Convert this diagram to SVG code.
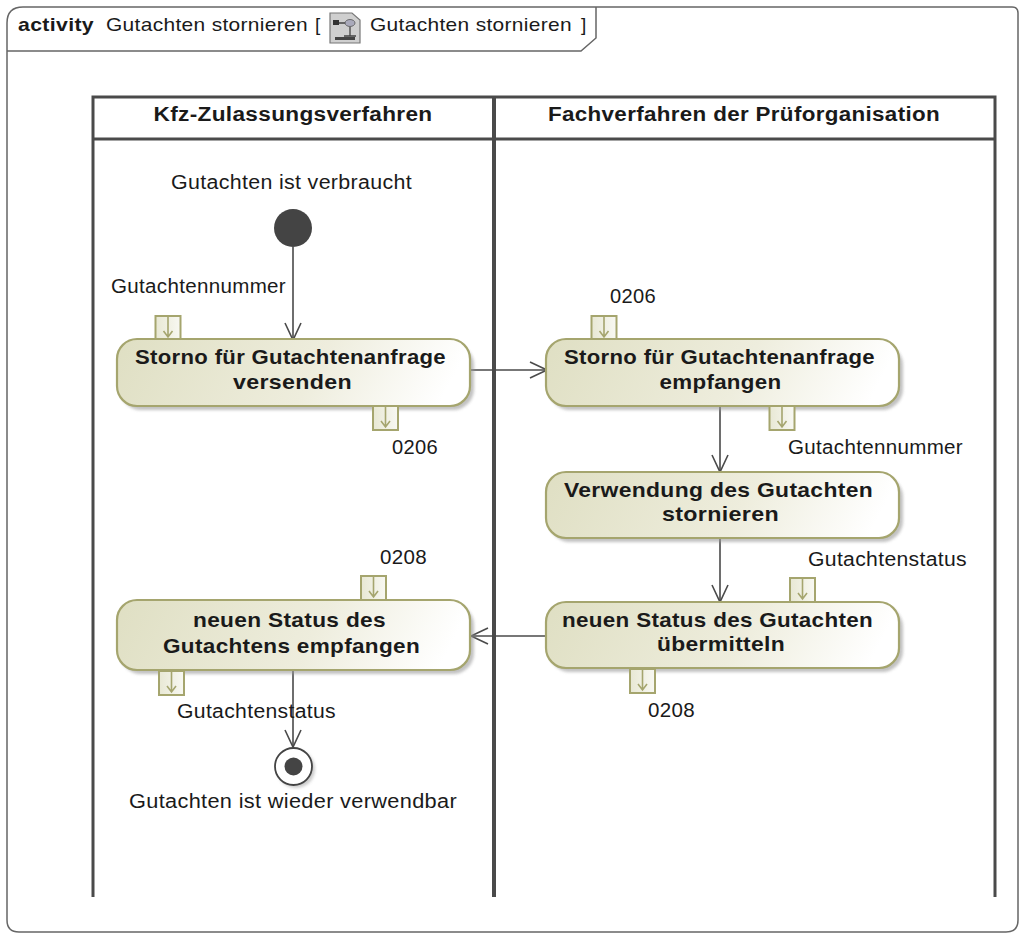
<svg xmlns="http://www.w3.org/2000/svg" width="1025" height="934" viewBox="0 0 1025 934">
<style>
text{font-family:"Liberation Sans",Arial,sans-serif;fill:#1a1a1a;font-size:19.500px;letter-spacing:.3px}
.t{font-size:19px}
.b{font-weight:bold}
.n{font-weight:bold;font-size:21px;text-anchor:middle}
.h{font-weight:bold;font-size:20px;text-anchor:middle}
.m{text-anchor:middle}
.act{fill:url(#g);stroke:#a5a56e;stroke-width:2.200}
.sh{fill:#999;opacity:.6;filter:url(#blur)}
.pin{fill:url(#pg);stroke:#a5a56e;stroke-width:2}
.pa{fill:none;stroke:#a5a56e;stroke-width:1.600}
.c{fill:none;stroke:#4a4a4a;stroke-width:1.600}
.sw{fill:none;stroke:#4a4a4a;stroke-width:3}
</style>
<defs>
<linearGradient id="g" x1="0" y1="0" x2="1" y2="0.1"><stop offset="0" stop-color="#dfdfc3"/><stop offset=".6" stop-color="#eeeddd"/><stop offset="1" stop-color="#ffffff"/></linearGradient>
<linearGradient id="pg" x1="0" y1="0" x2="1" y2="0"><stop offset="0" stop-color="#e8e8d4"/><stop offset="1" stop-color="#f8f8f2"/></linearGradient>
<filter id="blur" x="-10%" y="-20%" width="120%" height="140%"><feGaussianBlur stdDeviation="1.500"/></filter>
<marker id="arr" markerUnits="userSpaceOnUse" markerWidth="22" markerHeight="18" refX="18" refY="9" orient="auto"><path d="M1 1 L18 9 L1 17" fill="none" stroke="#4a4a4a" stroke-width="1.600"/></marker>
<g id="pinIcon"><rect class="pin" x="-12.500" y="0" width="25" height="24"/><path class="pa" d="M0 0V21M-4.500 15L0 21L4.500 15"/></g>
</defs>
<g id="frame">
<path d="M23 7H1012Q1018 7 1018 13V920Q1018 932 1006 932H19Q7 932 7 920V23Q7 7 23 7Z" fill="#fff" stroke="#666" stroke-width="1.500"/>
<path d="M7 51H581L596 38V7" fill="none" stroke="#666" stroke-width="1.500"/>
<text x="18" y="31" class="t b" textLength="76" lengthAdjust="spacingAndGlyphs">activity</text>
<text x="106" y="31" class="t" textLength="202" lengthAdjust="spacingAndGlyphs">Gutachten stornieren</text>
<text x="315" y="31" class="t">[</text>
<text x="370" y="31" class="t" textLength="202" lengthAdjust="spacingAndGlyphs">Gutachten stornieren</text>
<text x="581" y="31" class="t">]</text>
<g id="frame-icon"><path d="M330 13H352L360 20V43H330Z" fill="#cfcfcf" stroke="#777" stroke-width="1.200"/><rect x="333" y="20" width="6" height="5" fill="#333"/><path d="M339 23H346M350 27V36M344 36H356" stroke="#444" stroke-width="1.300" fill="none"/><ellipse cx="350" cy="23" rx="5" ry="3.500" fill="#aab" stroke="#555" stroke-width=".8"/><rect x="335" y="37" width="20" height="3" fill="#444"/></g>
</g>
<g id="swimlanes">
<path class="sw" d="M93 897V97H995V897M93 139H995"/>
<path class="sw" d="M494 97V897" style="stroke-width:4"/>
<text class="h" x="293" y="121" textLength="279" lengthAdjust="spacingAndGlyphs">Kfz-Zulassungsverfahren</text>
<text class="h" x="744" y="121" textLength="392" lengthAdjust="spacingAndGlyphs">Fachverfahren der Prüforganisation</text>
</g>
<g id="connectors">
<path class="c" d="M293 247V340" marker-end="url(#arr)"/>
<path class="c" d="M470 370H547" marker-end="url(#arr)"/>
<path class="c" d="M720 406V472" marker-end="url(#arr)"/>
<path class="c" d="M720 538V602" marker-end="url(#arr)"/>
<path class="c" d="M546 636H471" marker-end="url(#arr)"/>
<path class="c" d="M293 670V747" marker-end="url(#arr)"/>
</g>
<g id="start"><circle cx="293" cy="228" r="19" fill="#444"/><text x="291.500" y="189" class="m" textLength="241" lengthAdjust="spacingAndGlyphs">Gutachten ist verbraucht</text></g>
<g id="a1"><rect class="sh" x="120" y="344" width="354" height="66" rx="21"/><use href="#pinIcon" x="168" y="316"/><use href="#pinIcon" x="385.500" y="406"/><rect class="act" x="117" y="339" width="353" height="67" rx="20"/><text class="n" x="290.500" y="364" textLength="311" lengthAdjust="spacingAndGlyphs">Storno für Gutachtenanfrage</text><text class="n" x="292.500" y="389" textLength="119" lengthAdjust="spacingAndGlyphs">versenden</text><text x="111" y="293" textLength="175" lengthAdjust="spacingAndGlyphs">Gutachtennummer</text><text x="392" y="454" textLength="46" lengthAdjust="spacingAndGlyphs">0206</text></g>
<g id="a2"><rect class="sh" x="549" y="344" width="354" height="66" rx="21"/><use href="#pinIcon" x="604" y="316"/><use href="#pinIcon" x="782" y="406"/><rect class="act" x="546" y="339" width="353" height="67" rx="20"/><text class="n" x="719.500" y="364" textLength="311" lengthAdjust="spacingAndGlyphs">Storno für Gutachtenanfrage</text><text class="n" x="720.500" y="389" textLength="122" lengthAdjust="spacingAndGlyphs">empfangen</text><text x="610" y="303" textLength="46" lengthAdjust="spacingAndGlyphs">0206</text><text x="788" y="454" textLength="175" lengthAdjust="spacingAndGlyphs">Gutachtennummer</text></g>
<g id="a3"><rect class="sh" x="549" y="476" width="354" height="66" rx="21"/><rect class="act" x="546" y="472" width="353" height="66" rx="20"/><text class="n" x="718.500" y="497" textLength="309" lengthAdjust="spacingAndGlyphs">Verwendung des Gutachten</text><text class="n" x="720.500" y="521" textLength="117" lengthAdjust="spacingAndGlyphs">stornieren</text></g>
<g id="a4"><rect class="sh" x="549" y="606" width="354" height="66" rx="21"/><use href="#pinIcon" x="802.500" y="578"/><use href="#pinIcon" x="642.500" y="669"/><rect class="act" x="546" y="602" width="353" height="66" rx="20"/><text class="n" x="717.500" y="627" textLength="311" lengthAdjust="spacingAndGlyphs">neuen Status des Gutachten</text><text class="n" x="721" y="651" textLength="128" lengthAdjust="spacingAndGlyphs">übermitteln</text><text x="808" y="566" textLength="159" lengthAdjust="spacingAndGlyphs">Gutachtenstatus</text><text x="648" y="717" textLength="47" lengthAdjust="spacingAndGlyphs">0208</text></g>
<g id="a5"><rect class="sh" x="120" y="604" width="354" height="70" rx="21"/><use href="#pinIcon" x="373.500" y="576"/><use href="#pinIcon" x="171.500" y="671"/><rect class="act" x="117" y="600" width="353" height="70" rx="20"/><text class="n" x="289.500" y="627" textLength="193" lengthAdjust="spacingAndGlyphs">neuen Status des</text><text class="n" x="291.500" y="653" textLength="257" lengthAdjust="spacingAndGlyphs">Gutachtens empfangen</text><text x="380" y="564" textLength="47" lengthAdjust="spacingAndGlyphs">0208</text><text x="177" y="718" textLength="159" lengthAdjust="spacingAndGlyphs">Gutachtenstatus</text></g>
<g id="end"><circle cx="296" cy="769" r="19" fill="#aaa" opacity=".6" filter="url(#blur)"/><circle cx="293.500" cy="766.500" r="18.500" fill="#fff" stroke="#444" stroke-width="1.800"/><circle cx="293.500" cy="766.500" r="9" fill="#444"/><text x="293" y="808" class="m" textLength="328" lengthAdjust="spacingAndGlyphs">Gutachten ist wieder verwendbar</text></g>
</svg>
